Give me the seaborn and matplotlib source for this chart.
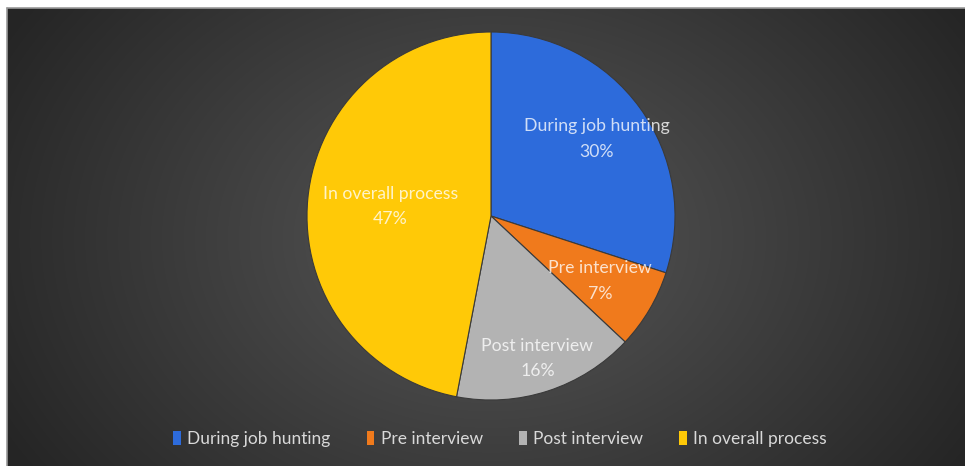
import numpy as np
import matplotlib
matplotlib.use("Agg")
import matplotlib.pyplot as plt
import seaborn as sns
from matplotlib.patches import Patch

categories = ["During job hunting", "Pre interview", "Post interview", "In overall process"]
values = [30, 7, 16, 47]
pct_labels = ["30%", "7%", "16%", "47%"]

sns.set_style("dark")
plt.rcParams["font.family"] = ["Lato", "DejaVu Sans"]

colors = sns.color_palette(["#2D6BDB", "#F07A1C", "#B3B3B3", "#FFC907"])
label_dist = [0.71, 0.69, 0.815, 0.55]

W, H = 965, 466
fig = plt.figure(figsize=(W / 100, H / 100), dpi=100)
fig.patch.set_facecolor("white")

# background panel with radial gradient
bg = fig.add_axes([7 / W, 0, (W - 7) / W, (H - 8) / H])
yy, xx = np.mgrid[0:458, 0:958]
cx, cy = 484, 230
d = np.sqrt(((xx - cx) / 560.0) ** 2 + ((yy - cy) / 420.0) ** 2)
d = np.clip(d, 0, 1)
inner = np.array([0x58, 0x58, 0x58]) / 255
outer = np.array([0x25, 0x25, 0x25]) / 255
img = inner[None, None, :] * (1 - d[..., None]) + outer[None, None, :] * d[..., None]
bg.imshow(img, aspect="auto", interpolation="bilinear")
bg.set_axis_off()
fig.add_artist(plt.Line2D([7 / W, 1], [(H - 8) / H, (H - 8) / H], color="#9a9a9a", lw=1.2))
fig.add_artist(plt.Line2D([7 / W, 7 / W], [0, (H - 8) / H], color="#9a9a9a", lw=1.2))

# pie
r = 184
cxp, cyp = 491, 250
ax = fig.add_axes([(cxp - r) / W, (cyp - r) / H, 2 * r / W, 2 * r / H])
ax.set_facecolor((0, 0, 0, 0))
wedges, _ = ax.pie(values, colors=colors, startangle=90, counterclock=False,
                   radius=1.0, wedgeprops=dict(edgecolor="#3a3a3a", linewidth=0.8))
ax.set_aspect("equal")
ax.set_xlim(-1, 1)
ax.set_ylim(-1, 1)
ax.set_axis_off()

for w, cat, pct, dist in zip(wedges, categories, pct_labels, label_dist):
    ang = np.deg2rad((w.theta1 + w.theta2) / 2)
    x, y = dist * np.cos(ang), dist * np.sin(ang)
    ax.text(x, y, f"{cat}\n{pct}", ha="center", va="center", fontsize=12.7,
            color="white", alpha=0.78, linespacing=1.75)

handles = [Patch(facecolor=c, edgecolor="none") for c in colors]
leg = fig.legend(handles, categories, loc="center", bbox_to_anchor=(500 / W, 27 / H),
                 ncol=4, frameon=False, fontsize=12.5, handlelength=0.45, handleheight=0.85,
                 handletextpad=0.35, columnspacing=2.1, labelcolor="#d9d9d9")

fig.savefig("out.png", dpi=100, facecolor=fig.get_facecolor())
